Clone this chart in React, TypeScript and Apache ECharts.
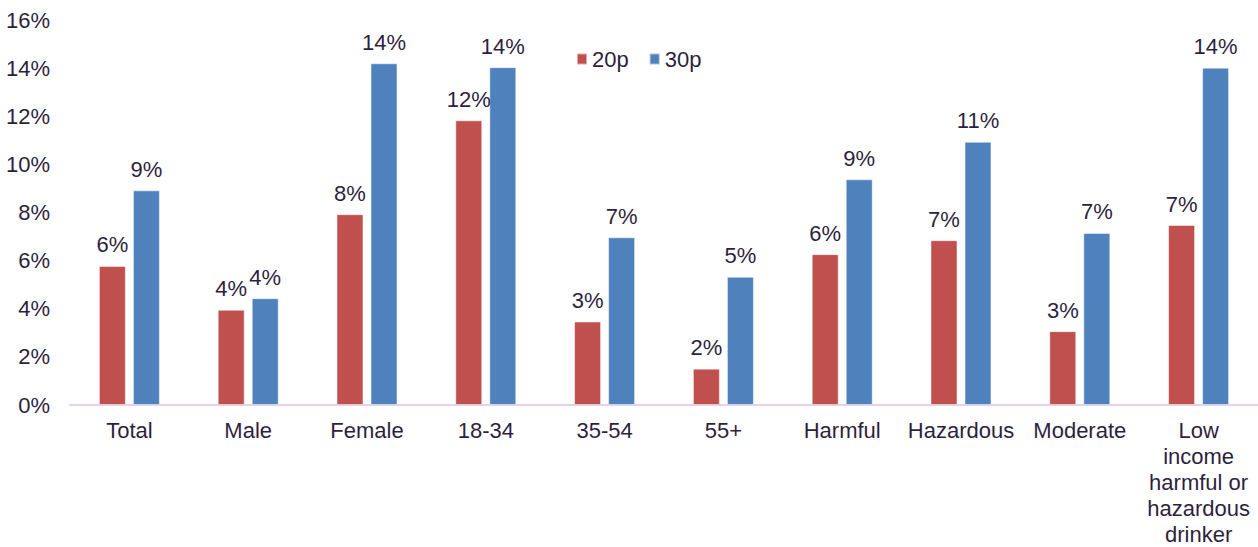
import React, { useEffect, useRef } from "react";
import * as echarts from "echarts";

// Share of each group affected under a 20p and a 30p minimum unit price
const categories = [
  "Total",
  "Male",
  "Female",
  "18-34",
  "35-54",
  "55+",
  "Harmful",
  "Hazardous",
  "Moderate",
  "Low\nincome\nharmful or\nhazardous\ndrinker",
];
const series20p = [5.78, 3.96, 7.93, 11.83, 3.47, 1.51, 6.27, 6.85, 3.07, 7.48];
const series30p = [8.92, 4.44, 14.2, 14.04, 6.97, 5.33, 9.38, 10.94, 7.15, 14.02];
const seriesNames = ["20p", "30p"];
const yTicks = { min: 0, max: 16, interval: 2 };

const TEXT = "#2E1F3E";
const FONT = "'Liberation Sans', Arial, sans-serif";
const FS = 22;

export default function App() {
  const ref = useRef<HTMLDivElement>(null);

  useEffect(() => {
    if (!ref.current) return;
    const chart = echarts.init(ref.current, undefined, { renderer: "svg" });
    const label = {
      show: true,
      position: "top" as const,
      distance: 10,
      color: TEXT,
      fontSize: FS,
      fontFamily: FONT,
      formatter: (p: any) => `${Math.round(p.value)}%`,
    };
    chart.setOption({
      animation: false,
      textStyle: { fontFamily: FONT },
      grid: { left: 70, right: 0, top: 20, bottom: 141, containLabel: false },
      legend: {
        left: 571,
        top: 43,
        itemWidth: 10,
        itemHeight: 11,
        itemGap: 20,
        icon: "rect",
        textStyle: { color: TEXT, fontSize: FS, fontFamily: FONT },
        data: seriesNames,
      },
      xAxis: {
        type: "category",
        data: categories,
        axisLine: { show: true, lineStyle: { color: "#E2D2EE", width: 2 } },
        axisTick: { show: false },
        axisLabel: {
          color: TEXT,
          fontSize: FS,
          fontFamily: FONT,
          lineHeight: 26,
          margin: 12,
          interval: 0,
        },
      },
      yAxis: {
        type: "value",
        min: yTicks.min,
        max: yTicks.max,
        interval: yTicks.interval,
        splitLine: { show: false },
        axisLine: { show: false },
        axisTick: { show: false },
        axisLabel: {
          color: TEXT,
          fontSize: FS,
          fontFamily: FONT,
          margin: 20,
          formatter: (v: number) => `${v}%`,
        },
      },
      series: [
        {
          name: seriesNames[0],
          type: "bar",
          data: series20p,
          barWidth: 27,
          barGap: "26%",
          itemStyle: { color: "#C0504D", borderColor: "rgba(255,255,255,0.5)", borderWidth: 1 },
          label,
        },
        {
          name: seriesNames[1],
          type: "bar",
          data: series30p,
          barWidth: 27,
          itemStyle: { color: "#4F81BD", borderColor: "rgba(255,255,255,0.5)", borderWidth: 1 },
          label,
        },
      ],
    });
    return () => chart.dispose();
  }, []);

  return (
    <div
      ref={ref}
      style={{ position: "absolute", left: 0, top: 0, width: 1258, height: 547, background: "#fff" }}
    />
  );
}
